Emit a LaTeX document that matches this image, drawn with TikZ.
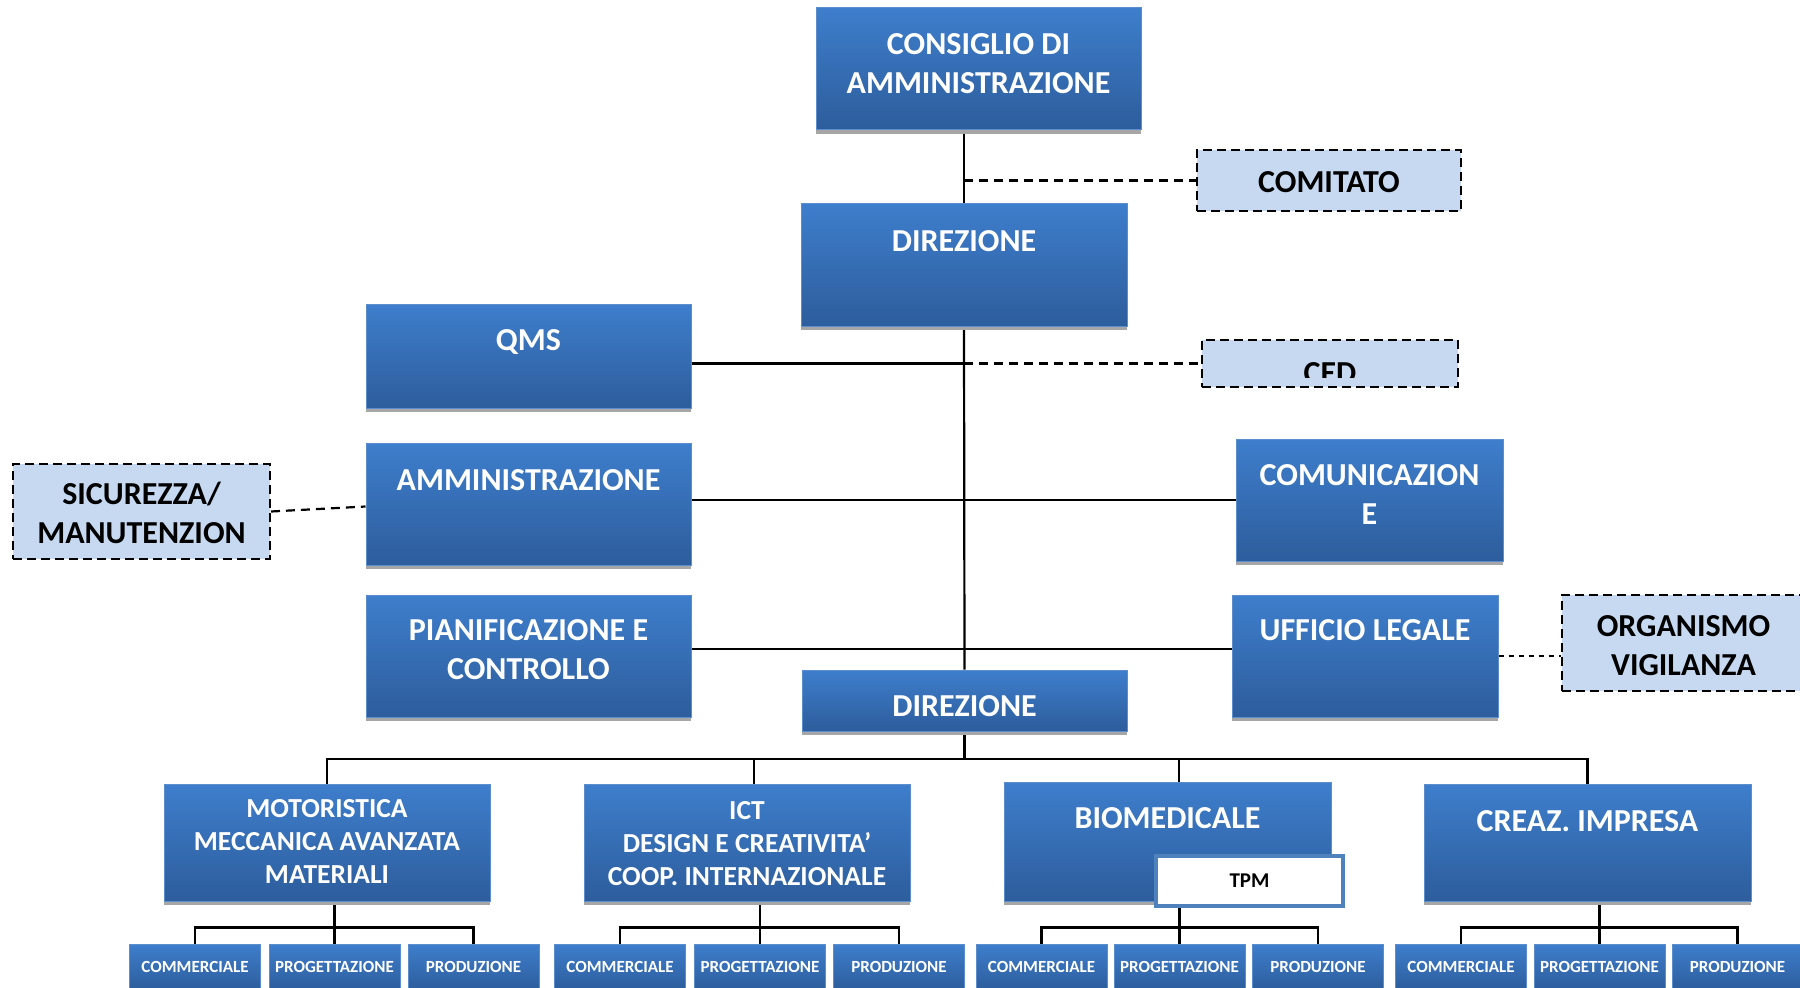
\documentclass[tikz,border=0pt]{standalone}
\usepackage{fontspec}
\setmainfont{Carlito}
\usetikzlibrary{shadows,calc}
\pgfdeclarelayer{background}
\pgfsetlayers{background,main}
\definecolor{gradtop}{RGB}{62,126,204}
\definecolor{gradbot}{RGB}{45,93,156}
\definecolor{boxborder}{RGB}{92,142,206}
\definecolor{shadowgray}{RGB}{166,166,166}
\definecolor{lightfill}{RGB}{198,217,241}
\definecolor{tpmborder}{RGB}{79,129,189}
\begin{document}
\begin{tikzpicture}[x=1pt,y=-1pt,
  mainbox/.style={draw=boxborder, line width=1pt, top color=gradtop, bottom color=gradbot, inner sep=0pt,
    drop shadow={shadow xshift=0pt, shadow yshift=-4pt, fill=shadowgray, opacity=1}},
  childbox/.style={draw=boxborder, line width=1pt, top color=gradtop, bottom color=gradbot, inner sep=0pt,
    minimum width=131pt, minimum height=46pt, text=white, font=\bfseries\fontsize{17}{20}\selectfont},
  dashbox/.style={draw=black, line width=2pt, dash pattern=on 9pt off 5pt, fill=lightfill, inner sep=0pt},
  tpmbox/.style={draw=tpmborder, line width=4pt, fill=white, inner sep=0pt},
  maintext/.style={text=white, font=\bfseries\fontsize{32}{39}\selectfont, align=center, inner sep=0pt},
  maintextS/.style={text=white, font=\bfseries\fontsize{27.5}{33}\selectfont, align=center, inner sep=0pt},
  darktext/.style={text=black, font=\bfseries\fontsize{32}{39}\selectfont, align=center, inner sep=0pt},
  conn/.style={draw=black, line width=2.2pt},
  dconn/.style={draw=black, line width=2.2pt, dash pattern=on 9pt off 6pt},
  dconnS/.style={draw=black, line width=2.2pt, dash pattern=on 5pt off 5pt},
  subshadow/.style={draw=shadowgray, line width=2pt}
]
\useasboundingbox (0,0) rectangle (1800,988);
\clip (0,0) rectangle (1800,988);

% main boxes
\node[mainbox, minimum width=325pt, minimum height=122pt] (cons) at (978.5,68.5) {};
\node[mainbox, minimum width=326pt, minimum height=123pt] (dir) at (964,264.5) {};
\node[mainbox, minimum width=325pt, minimum height=104pt] (qms) at (528.5,356) {};
\node[mainbox, minimum width=325pt, minimum height=122pt] (amm) at (528.5,504) {};
\node[mainbox, minimum width=325pt, minimum height=122pt] (pian) at (528.5,656) {};
\node[mainbox, minimum width=267pt, minimum height=122pt] (comm) at (1369.5,500) {};
\node[mainbox, minimum width=266pt, minimum height=122pt] (uff) at (1365,656) {};
\node[mainbox, minimum width=325pt, minimum height=61pt] (dir2) at (964.5,700.5) {};
\node[mainbox, minimum width=326pt, minimum height=117pt] (mot) at (327,842.5) {};
\node[mainbox, minimum width=326pt, minimum height=117pt] (ict) at (747,842.5) {};
\node[mainbox, minimum width=327pt, minimum height=119pt] (bio) at (1167.5,841.5) {};
\node[mainbox, minimum width=327pt, minimum height=117pt] (cre) at (1587.5,842.5) {};
\node[tpmbox, minimum width=187pt, minimum height=50pt] (tpm) at (1249.5,881) {};

% dashed boxes
\node[dashbox, minimum width=264pt, minimum height=61pt] (comit) at (1329,180.5) {};
\node[dashbox, minimum width=256pt, minimum height=47pt] (ced) at (1330,363.5) {};
\node[dashbox, minimum width=257pt, minimum height=95pt] (sic) at (141.5,511.5) {};
\node[dashbox, minimum width=243pt, minimum height=96pt] (org) at (1683.5,643) {};

% texts
\node[maintext] (consT) at (978.5,63.5) {CONSIGLIO DI\\AMMINISTRAZIONE};
\node[maintext] (dirT) at (964,241) {DIREZIONE};
\node[maintext] (qmsT) at (528.5,342) {QMS};
\node[maintext] (ammT) at (528.5,480) {AMMINISTRAZIONE};
\node[maintext] (pianT) at (528.5,650) {PIANIFICAZIONE E\\CONTROLLO};
\node[maintext] (commT) at (1369.5,494.5) {COMUNICAZION\\E};
\node[maintext] (uffT) at (1365,630) {UFFICIO LEGALE};
\node[maintext] (dir2T) at (964.5,706) {DIREZIONE};
\node[maintextS] (motT) at (327,841.5) {MOTORISTICA\\MECCANICA AVANZATA\\MATERIALI};
\node[maintextS] (ictT) at (747,844) {ICT\\DESIGN E CREATIVITA’\\COOP. INTERNAZIONALE};
\node[maintext] (bioT) at (1167.5,818) {BIOMEDICALE};
\node[maintext] (creT) at (1587.5,821) {CREAZ. IMPRESA};
\node[text=black, font=\bfseries\fontsize{21}{24}\selectfont, inner sep=0pt] (tpmT) at (1249.5,880.5) {TPM};

\node[darktext] (comT) at (1329,182) {COMITATO};
\begin{scope}
  \clip (1203,341) rectangle (1457,377);
  \node[darktext, anchor=north] (cedT) at (1330,362) {CED};
\end{scope}
\node[darktext] (sicT) at (141.5,513.5) {SICUREZZA\smash{/}\\MANUTENZION};
\node[darktext] (orgT) at (1683.5,645.5) {ORGANISMO\\VIGILANZA};

% child boxes
\node[childbox] (motC1) at (195,967) {COMMERCIALE};
\node[childbox] (motC2) at (334.5,967) {PROGETTAZIONE};
\node[childbox] (motC3) at (473.5,967) {PRODUZIONE};
\node[childbox] (ictC1) at (620,967) {COMMERCIALE};
\node[childbox] (ictC2) at (760,967) {PROGETTAZIONE};
\node[childbox] (ictC3) at (899,967) {PRODUZIONE};
\node[childbox] (bioC1) at (1041.5,967) {COMMERCIALE};
\node[childbox] (bioC2) at (1179.5,967) {PROGETTAZIONE};
\node[childbox] (bioC3) at (1318,967) {PRODUZIONE};
\node[childbox] (creC1) at (1461,967) {COMMERCIALE};
\node[childbox] (creC2) at (1599.5,967) {PROGETTAZIONE};
\node[childbox] (creC3) at (1737.5,967) {PRODUZIONE};

\coordinate (bus) at (964.5,759);
\coordinate (pianR) at ([yshift=7pt]pian.east);

\begin{pgfonlayer}{background}
  % spine
  \draw[conn] (dir.north |- cons.south) -- (dir.north);
  \draw[conn] (dir.south) -- (dir2.north);
  \draw[dconn] (dir.north |- comit.west) -- (comit.west);
  \draw[conn] (qms.east |- ced.west) -- (dir.south |- ced.west);
  \draw[dconn] (dir.south |- ced.west) -- (ced.west);
  \draw[conn] (amm.east |- comm.west) -- (comm.west);
  \draw[conn] (pianR) -- (pianR -| uff.west);
  \draw[dconnS] (uff.east) -- (uff.east -| org.west);
  \draw[dconn] (sic.east) -- ([yshift=-2.5pt]amm.west);
  % main bus
  \draw[conn] (dir2.south) -- (bus);
  \draw[conn] (mot.north) |- (bus) -| (cre.north);
  \draw[conn] ([xshift=7pt]ict.north) -- ([xshift=7pt]ict.north |- bus);
  \draw[conn] ([xshift=11.5pt]bio.north) -- ([xshift=11.5pt]bio.north |- bus);
  % sub buses (shadow)
  \begin{scope}[xshift=1.5pt, yshift=-2.5pt]
    \draw[subshadow] (motC1.north) -- ++(0,-16) -| (motC3.north);
    \draw[subshadow] (ictC1.north) -- ++(0,-16) -| (ictC3.north);
    \draw[subshadow] (bioC1.north) -- ++(0,-16) -| (bioC3.north);
    \draw[subshadow] (creC1.north) -- ++(0,-16) -| (creC3.north);
  \end{scope}
  % sub buses
  \draw[conn] (motC1.north) -- ++(0,-16) -| (motC3.north);
  \draw[conn] (mot.south -| motC2.north) -- (motC2.north);
  \draw[conn] (ictC1.north) -- ++(0,-16) -| (ictC3.north);
  \draw[conn] (ict.south -| ictC2.north) -- (ictC2.north);
  \draw[conn] (bioC1.north) -- ++(0,-16) -| (bioC3.north);
  \draw[conn] (tpm.south -| bioC2.north) -- (bioC2.north);
  \draw[conn] (creC1.north) -- ++(0,-16) -| (creC3.north);
  \draw[conn] (cre.south -| creC2.north) -- (creC2.north);
\end{pgfonlayer}
\end{tikzpicture}
\end{document}
